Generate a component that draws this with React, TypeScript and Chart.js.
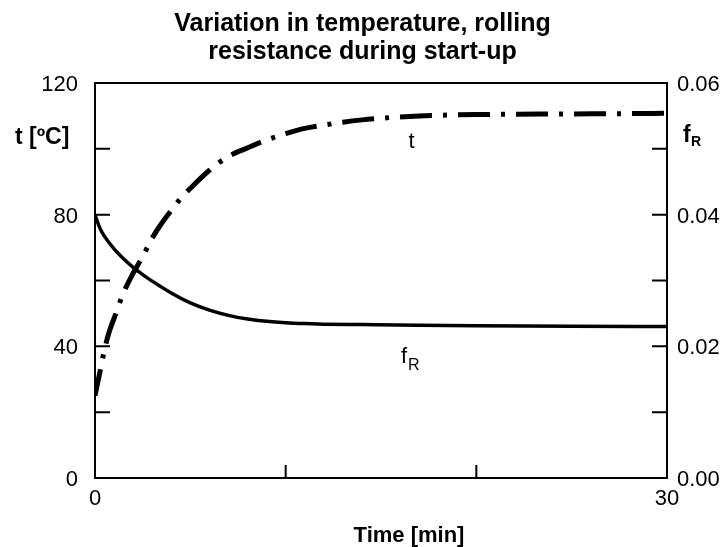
import { useEffect, useRef } from 'react';
import { Chart, registerables } from 'chart.js';

Chart.register(...registerables);

// Temperature t [°C] against time [min]
const timeTemp = [0, 0.25, 0.5, 0.75, 1, 1.5, 2, 2.5, 3, 3.5, 4, 4.5, 5, 6, 7, 8, 9, 10, 11, 12, 13, 14, 15, 16, 17, 18, 20, 22, 25, 28, 30];
const temperature = [25, 32, 39, 44.5, 48.5, 56.3, 62.2, 67.3, 72.9, 77.4, 81.3, 85, 88, 93.5, 97.7, 100.3, 102.7, 104.6, 106.2, 107.2, 108.1, 108.8, 109.3, 109.7, 110, 110.2, 110.4, 110.5, 110.6, 110.7, 110.8];

// Rolling resistance coefficient fR against time [min]
const timeRes = [0, 0.25, 0.5, 1, 1.5, 2, 2.5, 3, 4, 5, 6, 7, 8, 9, 10, 11, 12, 14, 17, 20, 25, 30];
const rollingRes = [0.04, 0.038, 0.0367, 0.0348, 0.0333, 0.032, 0.0309, 0.0299, 0.0281, 0.0266, 0.0255, 0.0247, 0.02415, 0.0238, 0.02358, 0.02345, 0.02337, 0.0233, 0.0232, 0.02313, 0.02305, 0.023];

// Axis ticks
const tempTickMarks = [20, 40, 60, 80, 100];
const resTickMarks = [0.01, 0.02, 0.03, 0.04, 0.05];
const timeTickMarks = [10, 20];
const timeLabels = [0, 30];

const titleLines = ['Variation in temperature, rolling', 'resistance during start-up'];
const xTitle = 'Time [min]';
const yTitle = 't [ºC]';

const FONT = '"Liberation Sans", Arial, Helvetica, sans-serif';

const framePlugin = {
  id: 'frame',
  beforeDatasetsDraw(chart: any) {
    const { ctx, chartArea: a, scales } = chart;
    ctx.save();
    ctx.strokeStyle = '#000';
    ctx.lineWidth = 2;
    ctx.strokeRect(a.left, a.top, a.right - a.left, a.bottom - a.top);
    ctx.beginPath();
    for (const v of tempTickMarks) {
      const y = scales.y.getPixelForValue(v);
      ctx.moveTo(a.left, y);
      ctx.lineTo(a.left + 15, y);
    }
    for (const v of resTickMarks) {
      const y = scales.y1.getPixelForValue(v);
      ctx.moveTo(a.right, y);
      ctx.lineTo(a.right - 15, y);
    }
    for (const v of timeTickMarks) {
      const x = scales.x.getPixelForValue(v);
      ctx.moveTo(x, a.bottom);
      ctx.lineTo(x, a.bottom - 13);
    }
    ctx.stroke();
    ctx.restore();
  },
  afterDraw(chart: any) {
    const { ctx, width } = chart;
    ctx.save();
    ctx.fillStyle = '#000';
    ctx.textBaseline = 'alphabetic';

    // title
    ctx.textAlign = 'center';
    ctx.font = `bold 25px ${FONT}`;
    ctx.fillText(titleLines[0], width / 2, 31);
    ctx.fillText(titleLines[1], width / 2, 59);

    // x axis title
    ctx.font = `bold 22px ${FONT}`;
    ctx.fillText(xTitle, 409, 542);

    // left axis title
    ctx.textAlign = 'left';
    ctx.font = `bold 23px ${FONT}`;
    ctx.fillText(yTitle, 15, 144);

    // right axis title fR
    ctx.font = `bold 23px ${FONT}`;
    ctx.fillText('f', 683, 141.5);
    ctx.font = `bold 14px ${FONT}`;
    ctx.fillText('R', 691, 146);

    // curve labels
    ctx.font = `22px ${FONT}`;
    ctx.textAlign = 'center';
    ctx.fillText('t', 411.5, 148);
    ctx.textAlign = 'left';
    ctx.fillText('f', 401, 363);
    ctx.font = `16px ${FONT}`;
    ctx.fillText('R', 408, 370);

    ctx.restore();
  },
};

export default function App() {
  const canvasRef = useRef<HTMLCanvasElement | null>(null);

  useEffect(() => {
    const canvas = canvasRef.current;
    if (!canvas) return;
    const tickFont = { family: FONT, size: 22 };
    const chart = new Chart(canvas, {
      type: 'line',
      data: {
        datasets: [
          {
            label: 't',
            data: timeTemp.map((x, i) => ({ x, y: temperature[i] })),
            yAxisID: 'y',
            borderColor: '#000',
            borderWidth: 5,
            borderDash: [32, 11, 4, 11],
            borderDashOffset: 5,
            borderCapStyle: 'butt',
            pointRadius: 0,
            cubicInterpolationMode: 'monotone',
            fill: false,
          },
          {
            label: 'fR',
            data: timeRes.map((x, i) => ({ x, y: rollingRes[i] })),
            yAxisID: 'y1',
            borderColor: '#000',
            borderWidth: 3.5,
            pointRadius: 0,
            cubicInterpolationMode: 'monotone',
            fill: false,
          },
        ],
      },
      options: {
        animation: false,
        responsive: false,
        events: [],
        layout: { padding: { top: 83, left: 0, right: 0, bottom: 0 } },
        plugins: { legend: { display: false }, tooltip: { enabled: false }, title: { display: false } },
        scales: {
          x: {
            type: 'linear',
            position: 'bottom',
            min: 0,
            max: 30,
            grid: { display: false, drawTicks: false },
            border: { display: false },
            ticks: {
              stepSize: 10,
              color: '#000',
              font: tickFont,
              padding: 8,
              maxRotation: 0,
              autoSkip: false,
              callback: (v: any) => (timeLabels.includes(Number(v)) ? String(v) : ''),
            },
            afterFit: (s: any) => {
              s.height = 69;
            },
          },
          y: {
            type: 'linear',
            position: 'left',
            min: 0,
            max: 120,
            grid: { display: false, drawTicks: false },
            border: { display: false },
            ticks: {
              stepSize: 40,
              color: '#000',
              font: tickFont,
              padding: 17,
              labelOffset: 2,
              callback: (v: any) => String(v),
            },
            afterFit: (s: any) => {
              s.width = 95;
            },
          },
          y1: {
            type: 'linear',
            position: 'right',
            min: 0,
            max: 0.06,
            grid: { display: false, drawTicks: false },
            border: { display: false },
            ticks: {
              stepSize: 0.02,
              color: '#000',
              font: tickFont,
              padding: 10,
              labelOffset: 2,
              callback: (v: any) => Number(v).toFixed(2),
            },
            afterFit: (s: any) => {
              s.width = 58;
            },
          },
        },
      },
      plugins: [framePlugin],
    } as any);
    return () => chart.destroy();
  }, []);

  return (
    <div style={{ position: 'absolute', left: 0, top: 0, width: 725, height: 547, background: '#fff' }}>
      <canvas ref={canvasRef} width={725} height={547} style={{ display: 'block' }} />
    </div>
  );
}
